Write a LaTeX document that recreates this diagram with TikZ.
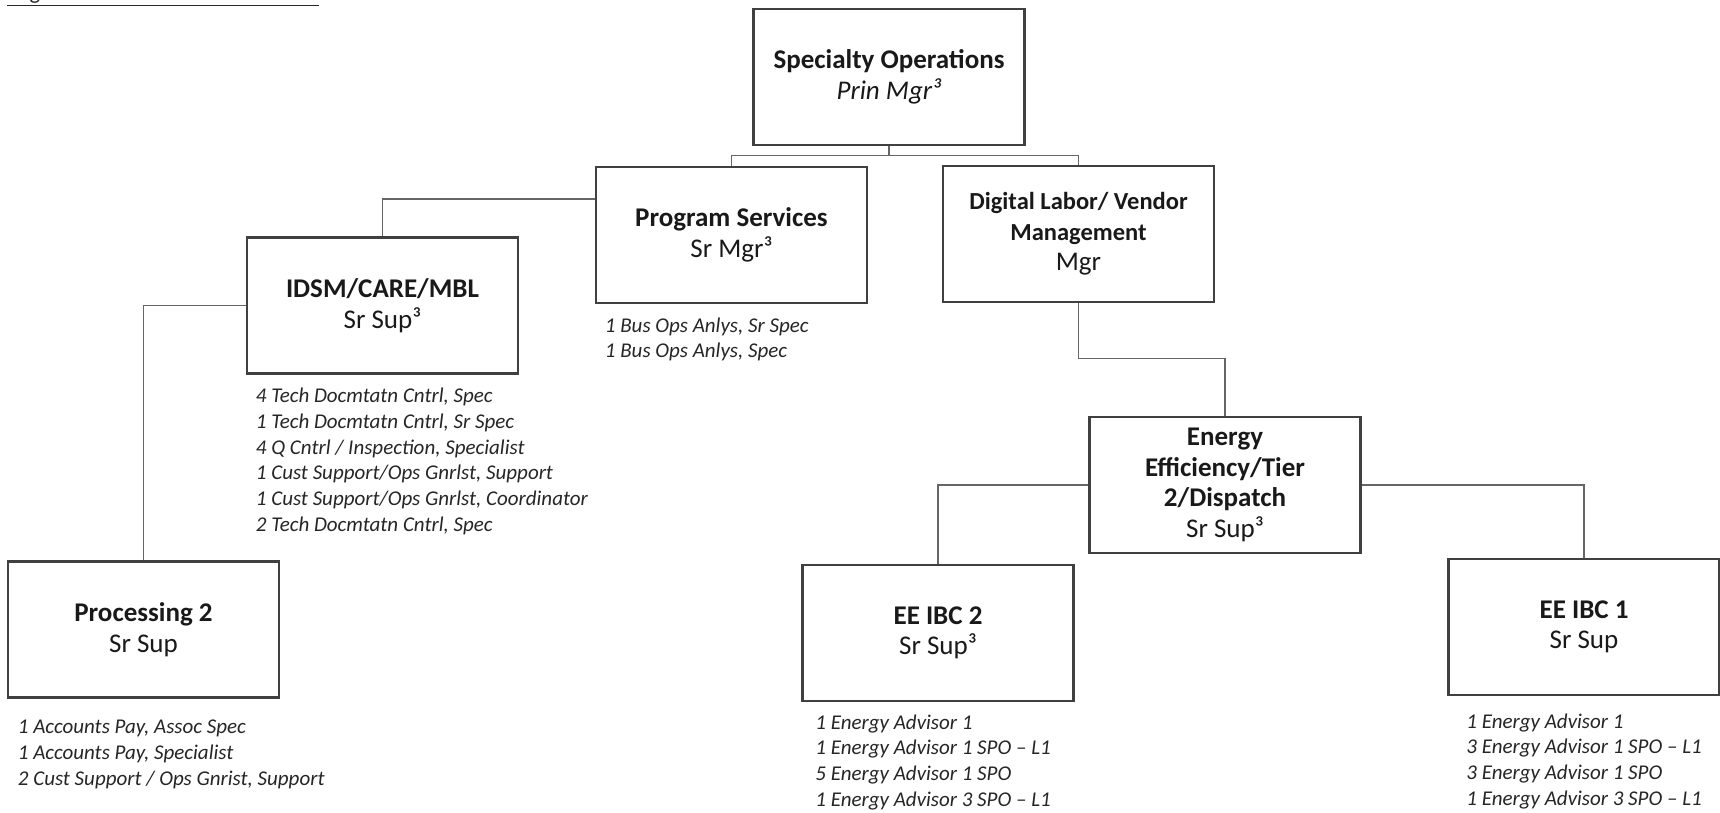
\documentclass[tikz,border=0pt]{standalone}
\usepackage{fontspec}
\setmainfont{Carlito}
\usetikzlibrary{positioning}

\begin{document}
\begin{tikzpicture}[
    x=1pt, y=-1pt,
    unit/.style={
        rectangle, draw=black!75, line width=2.6pt,
        minimum width=271pt, minimum height=136pt,
        inner sep=3pt, align=center, text=black!90,
        font=\fontsize{27}{30.5}\selectfont
    },
    roster/.style={
        inner sep=0pt, align=left, text=black!85,
        font=\fontsize{21}{25.8}\selectfont\itshape
    },
    link/.style={draw=black!60, line width=1.4pt}
]
\path[use as bounding box, fill=white] (0,0) rectangle (1720,813);

% Heading, cut off by the top edge
\node[anchor=south west, inner sep=0pt, text=black!85,
      font=\fontsize{22.5}{26}\selectfont] (heading) at (7,6)
      {\underline{Organization Chart Headcount: 37}};

% Top manager
\node[unit] (spec) at (889,77) {\textbf{Specialty Operations}\\\textit{Prin Mgr³}};

% Second level
\node[unit] (prog) at (731.5,235) {\textbf{Program Services}\\Sr Mgr³};
\node[unit] (digital) at (1078.5,234)
    {\textbf{\fontsize{24.5}{30}\selectfont Digital Labor/ Vendor}\\\textbf{\fontsize{24.5}{30}\selectfont Management}\\Mgr};

% Third level
\node[unit] (idsm) at (382.5,305.5) {\textbf{IDSM/CARE/MBL}\\Sr Sup³};
\node[unit] (eff) at (1225,485) {\textbf{Energy}\\\textbf{Efficiency/Tier}\\\textbf{2/Dispatch}\\Sr Sup³};

% Bottom level
\node[unit] (proc) at (143.5,629.5) {\textbf{Processing 2}\\Sr Sup};
\node[unit] (ibctwo) at (938,633) {\textbf{EE IBC 2}\\Sr Sup³};
\node[unit] (ibcone) at (1584,627) {\textbf{EE IBC 1}\\Sr Sup};

% Staff lists under the boxes
\node[roster, below right=13pt and 10pt of prog.south west] (progstaff)
    {1 Bus Ops Anlys, Sr Spec\\1 Bus Ops Anlys, Spec};
\node[roster, below right=13pt and 10pt of idsm.south west] (idsmstaff)
    {4 Tech Docmtatn Cntrl, Spec\\1 Tech Docmtatn Cntrl, Sr Spec\\4 Q Cntrl / Inspection, Specialist\\1 Cust Support/Ops Gnrlst, Support\\1 Cust Support/Ops Gnrlst, Coordinator\\2 Tech Docmtatn Cntrl, Spec};
\node[roster, below right=21pt and 11pt of proc.south west] (procstaff)
    {1 Accounts Pay, Assoc Spec\\1 Accounts Pay, Specialist\\2 Cust Support / Ops Gnrist, Support};
\node[roster, below right=12pt and 14pt of ibctwo.south west] (ibctwostaff)
    {1 Energy Advisor 1\\1 Energy Advisor 1 SPO – L1\\5 Energy Advisor 1 SPO\\1 Energy Advisor 3 SPO – L1};
\node[roster, below right=17pt and 19pt of ibcone.south west] (ibconestaff)
    {1 Energy Advisor 1\\3 Energy Advisor 1 SPO – L1\\3 Energy Advisor 1 SPO\\1 Energy Advisor 3 SPO – L1};

% Reporting lines
\draw[link] (spec.south) -- ++(0,9) -| (prog.north);
\draw[link] (spec.south) -- ++(0,9) -| (digital.north);
\draw[link] ([yshift=36pt]prog.west) -| (idsm.north);
\draw[link] (idsm.west) -| (proc.north);
\draw[link] (digital.south) -- ++(0,55) -| (eff.north);
\draw[link] (eff.west) -| (ibctwo.north);
\draw[link] (eff.east) -| (ibcone.north);

\end{tikzpicture}
\end{document}
